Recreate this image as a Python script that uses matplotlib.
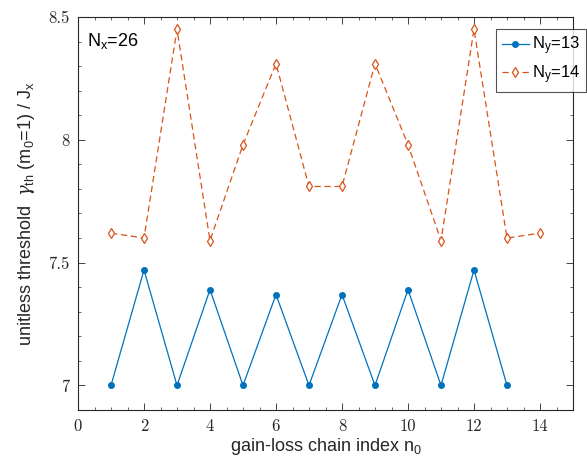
import matplotlib
matplotlib.use("Agg")
import matplotlib.pyplot as plt
from matplotlib.ticker import MultipleLocator

x13 = [1, 2, 3, 4, 5, 6, 7, 8, 9, 10, 11, 12, 13]
y13 = [7.0, 7.47, 7.0, 7.39, 7.0, 7.37, 7.0, 7.37, 7.0, 7.39, 7.0, 7.47, 7.0]
x14 = [1, 2, 3, 4, 5, 6, 7, 8, 9, 10, 11, 12, 13, 14]
y14 = [7.62, 7.60, 8.45, 7.59, 7.98, 8.31, 7.81, 7.81, 8.31, 7.98, 7.59, 8.45, 7.60, 7.62]
xticks = [0, 2, 4, 6, 8, 10, 12, 14]
yticks = [7, 7.5, 8, 8.5]
ytick_labels = ["7", "7.5", "8", "8.5"]

plt.rcParams['font.family'] = ['Liberation Sans', 'DejaVu Sans']
plt.rcParams['mathtext.fontset'] = 'custom'
plt.rcParams['mathtext.rm'] = 'Liberation Sans'
plt.rcParams['mathtext.it'] = 'DejaVu Serif:italic'

blue = '#0072BD'
orange = '#D95319'

fig = plt.figure(figsize=(5.87, 4.70), dpi=100)
ax = fig.add_axes([78/587, 1-410/470, (573-78)/587, (410-17)/470])

ax.plot(x13, y13, '-', color=blue, lw=0.9, marker='o', ms=4,
        markerfacecolor=blue, markeredgecolor=blue, label=r'N$_\mathregular{y}$=13')
ax.plot(x14, y14, '--', color=orange, lw=0.9, marker='d', ms=5,
        markerfacecolor='white', markeredgecolor=orange, markeredgewidth=0.9,
        label=r'N$_\mathregular{y}$=14', dashes=(5, 3))

ax.set_xlim(0, 15)
ax.set_ylim(6.9, 8.5)
ax.set_xticks(xticks)
ax.set_xticklabels([str(t) for t in xticks], fontfamily='cmr10', fontsize=12)
ax.set_yticks(yticks)
ax.set_yticklabels(ytick_labels, fontfamily='cmr10', fontsize=12)
ax.xaxis.set_minor_locator(MultipleLocator(0.5))
ax.yaxis.set_minor_locator(MultipleLocator(0.1))
ax.tick_params(which='both', direction='in', top=True, right=True, color='#262626')
ax.tick_params(which='major', length=5, width=0.6, pad=6, labelcolor='#262626')
ax.tick_params(which='minor', length=2.5, width=0.5)
for s in ax.spines.values():
    s.set_linewidth(0.8)
    s.set_color('#262626')

ax.set_xlabel(r'gain-loss chain index n$_\mathregular{0}$', fontsize=13, color='#262626', labelpad=2)
ax.set_ylabel(r'unitless threshold  $\gamma_\mathregular{th}$ (m$_\mathregular{0}$=1) / J$_\mathregular{x}$',
              fontsize=13, color='#262626', labelpad=8)

ax.text(0.018, 0.965, r'N$_\mathregular{x}$=26', transform=ax.transAxes, fontsize=13,
        va='top', ha='left', color='black')

leg = ax.legend(loc='upper left', bbox_to_anchor=(496/587, 1-29/470), bbox_transform=fig.transFigure,
                fontsize=12, frameon=True, fancybox=False, edgecolor='#262626',
                handlelength=1.6, handletextpad=0.2, borderpad=0.35, labelspacing=0.35,
                borderaxespad=0)
leg.get_frame().set_linewidth(0.8)

fig.savefig('out.png', dpi=100)
